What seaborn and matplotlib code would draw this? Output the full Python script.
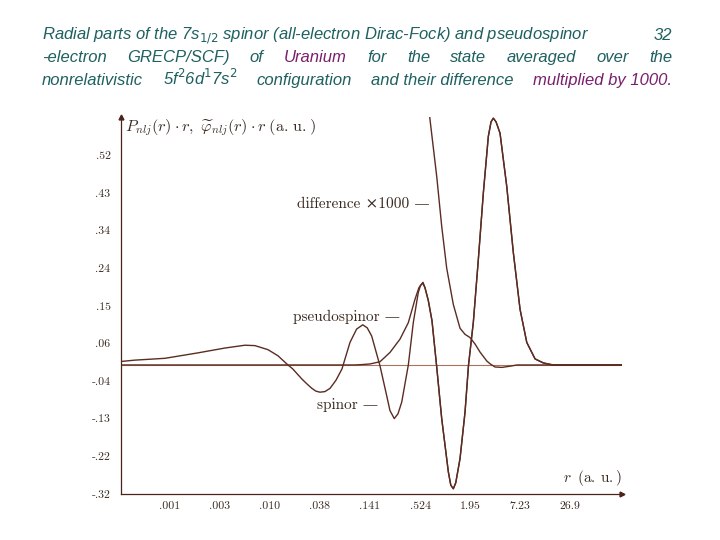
import matplotlib
matplotlib.use("Agg")
import matplotlib.pyplot as plt
import numpy as np
import pandas as pd
import seaborn as sns

# ── Data ─────────────────────────────────────────────────────────────────────

# all-electron spinor, r in a.u. (log axis)
spinor_r = [0.00021, 0.000292, 0.000643, 0.00153, 0.00311, 0.00526, 0.00684, 0.00962,
            0.0125, 0.0158, 0.0185, 0.0235, 0.0268, 0.0305, 0.0340, 0.0377, 0.0430,
            0.0491, 0.0574, 0.0672, 0.0830, 0.0988, 0.116, 0.1306, 0.1466, 0.1824,
            0.2175, 0.237, 0.2655, 0.2928, 0.323, 0.384, 0.4375, 0.499, 0.5285, 0.560,
            0.594, 0.6486, 0.7145, 0.805, 0.9226, 1.098, 1.171, 1.252, 1.335, 1.493,
            1.702, 1.866, 2.117, 2.415, 2.754, 3.139, 3.37, 3.581, 3.843, 4.266, 5.09,
            6.05, 7.22, 8.61, 10.71, 13.32, 17.18, 105]
spinor_v = [0.009, 0.012, 0.0165, 0.030, 0.042, 0.049, 0.048, 0.038,
            0.023, 0.0025, -0.010, -0.035, -0.047, -0.058, -0.065, -0.0675, -0.066,
            -0.058, -0.038, -0.010, 0.056, 0.089, 0.0996, 0.092, 0.072, -0.002,
            -0.076, -0.113, -0.133, -0.121, -0.092, 0.0, 0.105, 0.18, 0.197, 0.203,
            0.192, 0.16, 0.11, 0.0, -0.133, -0.265, -0.298, -0.307, -0.292, -0.232,
            -0.117, 0.0, 0.106, 0.262, 0.427, 0.567, 0.603, 0.612, 0.603, 0.575, 0.443,
            0.279, 0.138, 0.056, 0.015, 0.005, 0.0, 0.0]

# pseudospinor: inner part (beyond r ~ 0.57 it lies on the spinor)
pseudo_r = [0.00021, 0.0946, 0.1138, 0.140, 0.1824, 0.237, 0.3085, 0.384, 0.4575,
            0.508, 0.5644]
pseudo_v = [0.0, 0.0, 0.001, 0.0025, 0.008, 0.031, 0.064, 0.105, 0.163, 0.192, 0.205]

# difference x 1000 (runs off the top for smaller r)
diff_r = [0.627, 0.679, 0.809, 0.9226, 1.052, 1.252, 1.493, 1.702, 1.941, 2.213,
          2.523, 3.01, 3.28, 3.74, 4.50, 5.55, 6.67, 105]
diff_v = [0.68, 0.608, 0.468, 0.344, 0.24, 0.15, 0.091, 0.076, 0.068, 0.052,
          0.032, 0.010, 0.003, -0.005, -0.006, -0.003, 0.0, 0.0]

xtick_pos = [0.000733, 0.00273, 0.0101, 0.0377, 0.140, 0.524, 1.95, 7.23, 26.9]
xtick_lab = [".001", ".003", ".010", ".038", ".141", ".524", "1.95", "7.23", "26.9"]
ytick_pos = np.linspace(-0.32, 0.52, 10)
ytick_lab = ["-.32", "-.22", "-.13", "-.04", ".06", ".15", ".24", ".34", ".43", ".52"]

# ── Style ────────────────────────────────────────────────────────────────────

sns.set_theme(style="white")
plt.rcParams["font.family"] = ["Liberation Sans", "DejaVu Sans"]

INK    = "#5a2c22"
AXIS   = "#4a2418"
ZERO   = "#a8745c"
TEAL   = "#1f6060"
PURPLE = "#7a1f6c"
SERIF  = ["cmr10", "DejaVu Serif"]

fig = plt.figure(figsize=(7.2, 5.4), dpi=100)
fig.patch.set_facecolor("white")
ax = fig.add_axes([121 / 720, 46 / 540, 501 / 720, 377 / 540])

# ── Curves ───────────────────────────────────────────────────────────────────

sp = pd.DataFrame({"r": spinor_r, "v": spinor_v})
ps = pd.concat([pd.DataFrame({"r": pseudo_r, "v": pseudo_v}), sp[sp["r"] > 0.57]],
               ignore_index=True)
df = pd.DataFrame({"r": diff_r, "v": diff_v})

ax.axhline(0, color=ZERO, lw=0.8, zorder=1)
for d in (sp, ps, df):
    sns.lineplot(data=d, x="r", y="v", ax=ax, color=INK, lw=1.0,
                 estimator=None, sort=False, zorder=3)

ax.set_xscale("log")
ax.set_xlim(0.000203, 105)
ax.set_ylim(-0.32, 0.615)
ax.minorticks_off()
ax.set_xticks(xtick_pos)
ax.set_xticklabels(xtick_lab)
ax.set_yticks(ytick_pos)
ax.set_yticklabels(ytick_lab)
ax.set_xlabel("")
ax.set_ylabel("")

ax.spines[["top", "right"]].set_visible(False)
for s in ("left", "bottom"):
    ax.spines[s].set_color(AXIS)
    ax.spines[s].set_linewidth(0.9)
ax.tick_params(direction="inout", length=5, width=0.8, color=AXIS,
               labelsize=8.5, labelcolor="#3a2a20")
ax.tick_params(axis="y", pad=5)
ax.tick_params(axis="x", pad=3)
for lab in ax.get_xticklabels() + ax.get_yticklabels():
    lab.set_fontfamily(SERIF)

ax.plot(1, 0, ">", transform=ax.transAxes, clip_on=False, color=AXIS, ms=3.5)
ax.plot(0, 1, "^", transform=ax.transAxes, clip_on=False, color=AXIS, ms=3.5)

ax.text(0.008, 0.971,
        r"$P_{nlj}(r)\cdot r,\;\widetilde{\varphi}_{nlj}(r)\cdot r\;\mathrm{(a.\,u.)}$",
        transform=ax.transAxes, ha="left", va="center", fontsize=11.7,
        color="#3a2a20", math_fontfamily="cm")
ax.text(1.0, 0.042, r"$r\;\;\mathrm{(a.\,u.)}$", transform=ax.transAxes,
        ha="right", va="center", fontsize=11, color="#3a2a20", math_fontfamily="cm")

lab_kw = dict(ha="right", va="center", fontsize=11, color="#3a2a20", family=SERIF)
ax.text(0.679, 0.398, "difference \u00d71000 \u2014", **lab_kw)
ax.text(0.3085, 0.119, "pseudospinor \u2014", **lab_kw)
ax.text(0.173, -0.099, "spinor \u2014", **lab_kw)

# ── Title (justified slide text) ─────────────────────────────────────────────

def put(x, y, s, color=TEAL, ha="left"):
    return fig.text(x / 720, 1 - y / 540, s, ha=ha, va="baseline", fontsize=12.0,
                    style="italic", color=color, math_fontfamily="dejavusans")

def justify(words, y, x0=42, x1=672):
    texts = [put(0, y, w, color=c) for w, c in words]
    fig.canvas.draw()
    rend = fig.canvas.get_renderer()
    widths = [t.get_window_extent(rend).width for t in texts]
    gap = (x1 - x0 - sum(widths)) / (len(texts) - 1)
    x = x0
    for t, w in zip(texts, widths):
        t.set_x(x / 720)
        x += w + gap

put(42, 40, r"Radial parts of the 7s$_{1/2}$ spinor (all-electron Dirac-Fock) and pseudospinor")
put(672, 40, "32", ha="right")
justify([("-electron", TEAL), ("GRECP/SCF)", TEAL), ("of", TEAL),
         ("Uranium", PURPLE), ("for", TEAL), ("the", TEAL), ("state", TEAL),
         ("averaged", TEAL), ("over", TEAL), ("the", TEAL)], 62)
justify([("nonrelativistic", TEAL), (r"5f$^2$6d$^1$7s$^2$", TEAL),
         ("configuration", TEAL), ("and their difference", TEAL),
         ("multiplied by 1000.", PURPLE)], 85)

fig.savefig("out.png", dpi=100)
